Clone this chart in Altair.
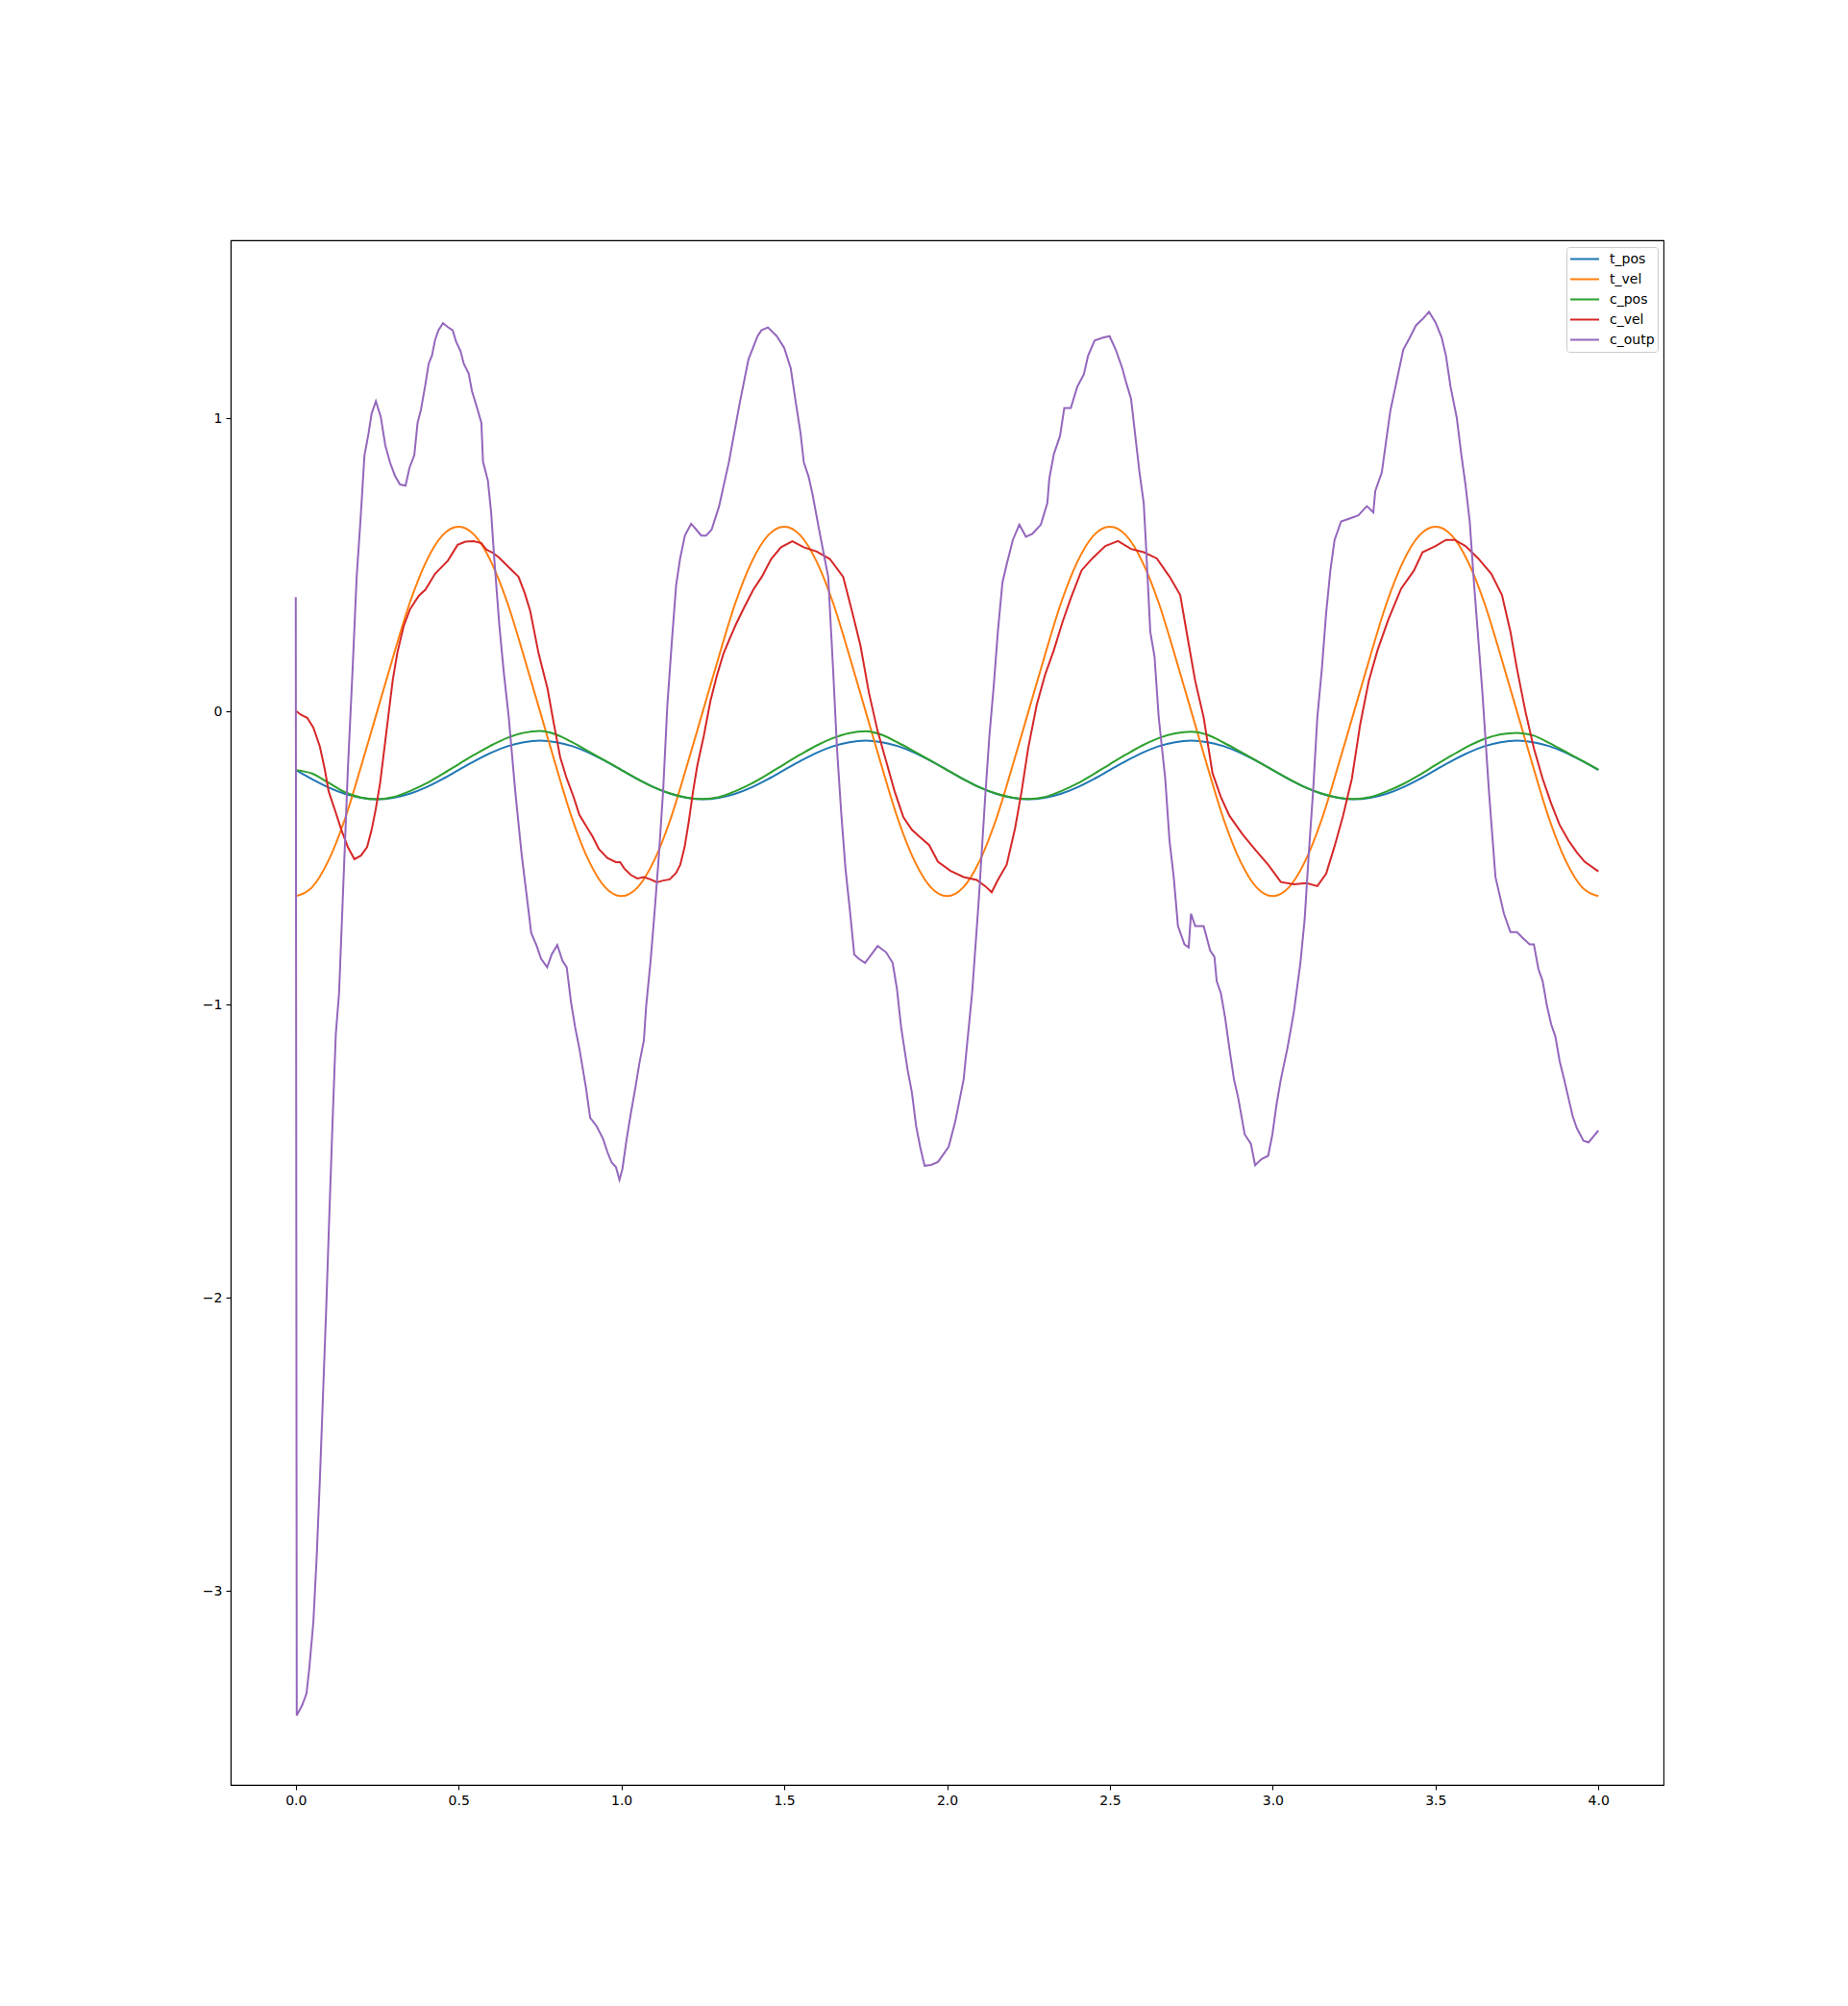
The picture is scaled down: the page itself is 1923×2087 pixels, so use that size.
import altair as alt
import pandas as pd

SERIES = ["t_pos", "t_vel", "c_pos", "c_vel", "c_outp"]
COLORS = ["#1f77b4", "#ff7f0e", "#2ca02c", "#d62728", "#9467bd"]

X_TICKS = [0.0, 0.5, 1.0, 1.5, 2.0, 2.5, 3.0, 3.5, 4.0]
Y_TICKS = [-3, -2, -1, 0, 1]

T_GRID = [0.00, 0.05, 0.10, 0.15, 0.20, 0.25, 0.30, 0.35, 0.40, 0.45,
          0.50, 0.55, 0.60, 0.65, 0.70, 0.75, 0.80, 0.85, 0.90, 0.95,
          1.00, 1.05, 1.10, 1.15, 1.20, 1.25, 1.30, 1.35, 1.40, 1.45,
          1.50, 1.55, 1.60, 1.65, 1.70, 1.75, 1.80, 1.85, 1.90, 1.95,
          2.00, 2.05, 2.10, 2.15, 2.20, 2.25, 2.30, 2.35, 2.40, 2.45,
          2.50, 2.55, 2.60, 2.65, 2.70, 2.75, 2.80, 2.85, 2.90, 2.95,
          3.00, 3.05, 3.10, 3.15, 3.20, 3.25, 3.30, 3.35, 3.40, 3.45,
          3.50, 3.55, 3.60, 3.65, 3.70, 3.75, 3.80, 3.85, 3.90, 3.95,
          4.00]

T_POS = [-0.200, -0.231, -0.259, -0.281, -0.295, -0.300, -0.295, -0.281, -0.259, -0.231,
         -0.200, -0.169, -0.141, -0.119, -0.105, -0.100, -0.105, -0.119, -0.141, -0.169,
         -0.200, -0.231, -0.259, -0.281, -0.295, -0.300, -0.295, -0.281, -0.259, -0.231,
         -0.200, -0.169, -0.141, -0.119, -0.105, -0.100, -0.105, -0.119, -0.141, -0.169,
         -0.200, -0.231, -0.259, -0.281, -0.295, -0.300, -0.295, -0.281, -0.259, -0.231,
         -0.200, -0.169, -0.141, -0.119, -0.105, -0.100, -0.105, -0.119, -0.141, -0.169,
         -0.200, -0.231, -0.259, -0.281, -0.295, -0.300, -0.295, -0.281, -0.259, -0.231,
         -0.200, -0.169, -0.141, -0.119, -0.105, -0.100, -0.105, -0.119, -0.141, -0.169,
         -0.200]

T_VEL = [-0.63, -0.60, -0.51, -0.37, -0.19, 0.00, 0.19, 0.37, 0.51, 0.60,
         0.63, 0.60, 0.51, 0.37, 0.19, 0.00, -0.19, -0.37, -0.51, -0.60,
         -0.63, -0.60, -0.51, -0.37, -0.19, 0.00, 0.19, 0.37, 0.51, 0.60,
         0.63, 0.60, 0.51, 0.37, 0.19, 0.00, -0.19, -0.37, -0.51, -0.60,
         -0.63, -0.60, -0.51, -0.37, -0.19, 0.00, 0.19, 0.37, 0.51, 0.60,
         0.63, 0.60, 0.51, 0.37, 0.19, 0.00, -0.19, -0.37, -0.51, -0.60,
         -0.63, -0.60, -0.51, -0.37, -0.19, 0.00, 0.19, 0.37, 0.51, 0.60,
         0.63, 0.60, 0.51, 0.37, 0.19, 0.00, -0.19, -0.37, -0.51, -0.60,
         -0.63]

C_POS = [-0.200, -0.212, -0.243, -0.275, -0.294, -0.300, -0.292, -0.272, -0.246, -0.214,
         -0.180, -0.147, -0.116, -0.090, -0.073, -0.067, -0.079, -0.106, -0.137, -0.168,
         -0.200, -0.231, -0.259, -0.280, -0.294, -0.299, -0.292, -0.272, -0.246, -0.214,
         -0.180, -0.147, -0.116, -0.091, -0.074, -0.068, -0.080, -0.107, -0.137, -0.168,
         -0.200, -0.231, -0.259, -0.280, -0.294, -0.299, -0.292, -0.272, -0.246, -0.214,
         -0.180, -0.147, -0.116, -0.091, -0.075, -0.069, -0.080, -0.107, -0.137, -0.168,
         -0.200, -0.231, -0.259, -0.280, -0.294, -0.299, -0.292, -0.273, -0.248, -0.217,
         -0.183, -0.150, -0.119, -0.094, -0.078, -0.073, -0.082, -0.108, -0.138, -0.168,
         -0.198]

C_VEL_T = [0.000, 0.015, 0.035, 0.054, 0.074, 0.089, 0.101, 0.121, 0.140, 0.160,
           0.180, 0.200, 0.219, 0.233, 0.246, 0.259, 0.272, 0.285, 0.298, 0.312,
           0.331, 0.351, 0.378, 0.398, 0.428, 0.467, 0.497, 0.521, 0.546, 0.570,
           0.585, 0.605, 0.624, 0.644, 0.684, 0.703, 0.720, 0.746, 0.773, 0.792,
           0.812, 0.832, 0.852, 0.871, 0.891, 0.911, 0.931, 0.957, 0.983, 0.996,
           1.009, 1.029, 1.049, 1.069, 1.089, 1.109, 1.128, 1.148, 1.168, 1.181,
           1.194, 1.207, 1.220, 1.233, 1.253, 1.273, 1.293, 1.313, 1.332, 1.352,
           1.378, 1.405, 1.431, 1.460, 1.490, 1.525, 1.560, 1.600, 1.640, 1.681,
           1.708, 1.734, 1.760, 1.787, 1.813, 1.839, 1.866, 1.892, 1.918, 1.945,
           1.972, 2.011, 2.051, 2.091, 2.117, 2.137, 2.156, 2.183, 2.209, 2.229,
           2.249, 2.275, 2.301, 2.328, 2.354, 2.380, 2.413, 2.446, 2.486, 2.525,
           2.565, 2.604, 2.644, 2.683, 2.716, 2.742, 2.762, 2.788, 2.815, 2.841,
           2.867, 2.907, 2.946, 2.986, 3.025, 3.065, 3.104, 3.137, 3.164, 3.190,
           3.216, 3.243, 3.269, 3.295, 3.322, 3.355, 3.394, 3.434, 3.460, 3.500,
           3.532, 3.559, 3.592, 3.631, 3.671, 3.704, 3.730, 3.750, 3.776, 3.802,
           3.829, 3.855, 3.881, 3.908, 3.934, 3.958, 4.000]
C_VEL_V = [0.002, -0.011, -0.022, -0.055, -0.120, -0.197, -0.273, -0.339, -0.404, -0.463,
           -0.504, -0.492, -0.463, -0.404, -0.331, -0.244, -0.127, -0.009, 0.108, 0.200,
           0.290, 0.349, 0.395, 0.415, 0.470, 0.514, 0.568, 0.579, 0.581, 0.574,
           0.552, 0.541, 0.525, 0.503, 0.459, 0.404, 0.342, 0.196, 0.078, -0.039,
           -0.156, -0.229, -0.288, -0.353, -0.390, -0.426, -0.470, -0.500, -0.514, -0.514,
           -0.536, -0.558, -0.570, -0.565, -0.573, -0.583, -0.577, -0.573, -0.551, -0.522,
           -0.463, -0.375, -0.273, -0.185, -0.083, 0.034, 0.122, 0.196, 0.247, 0.298,
           0.357, 0.415, 0.459, 0.520, 0.560, 0.580, 0.560, 0.545, 0.520, 0.459,
           0.342, 0.225, 0.064, -0.068, -0.170, -0.273, -0.361, -0.404, -0.430, -0.456,
           -0.513, -0.544, -0.565, -0.575, -0.596, -0.617, -0.575, -0.523, -0.398, -0.272,
           -0.126, 0.021, 0.125, 0.209, 0.303, 0.386, 0.481, 0.522, 0.564, 0.581,
           0.554, 0.543, 0.522, 0.460, 0.397, 0.230, 0.104, -0.021, -0.210, -0.293,
           -0.356, -0.419, -0.471, -0.523, -0.582, -0.590, -0.586, -0.596, -0.554, -0.460,
           -0.356, -0.230, -0.042, 0.104, 0.209, 0.313, 0.418, 0.481, 0.543, 0.564,
           0.585, 0.585, 0.564, 0.522, 0.470, 0.397, 0.272, 0.146, 0.000, -0.126,
           -0.230, -0.314, -0.387, -0.440, -0.481, -0.513, -0.546]

C_OUTP_T = [0.000, 0.003, 0.020, 0.033, 0.042, 0.054, 0.064, 0.074, 0.084, 0.094,
            0.103, 0.113, 0.123, 0.133, 0.160, 0.174, 0.187, 0.199, 0.211, 0.223,
            0.233, 0.246, 0.261, 0.275, 0.290, 0.305, 0.320, 0.337, 0.349, 0.364,
            0.374, 0.384, 0.398, 0.408, 0.418, 0.428, 0.438, 0.452, 0.467, 0.482,
            0.492, 0.506, 0.516, 0.531, 0.541, 0.556, 0.570, 0.575, 0.590, 0.600,
            0.610, 0.625, 0.639, 0.654, 0.674, 0.694, 0.707, 0.723, 0.740, 0.753,
            0.772, 0.786, 0.803, 0.819, 0.832, 0.845, 0.858, 0.871, 0.891, 0.904,
            0.924, 0.944, 0.957, 0.970, 0.983, 0.994, 1.003, 1.016, 1.029, 1.043,
            1.056, 1.069, 1.076, 1.089, 1.102, 1.115, 1.128, 1.141, 1.155, 1.168,
            1.180, 1.195, 1.214, 1.230, 1.245, 1.260, 1.277, 1.300, 1.330, 1.363,
            1.390, 1.418, 1.430, 1.450, 1.477, 1.500, 1.520, 1.536, 1.550, 1.560,
            1.575, 1.587, 1.607, 1.635, 1.649, 1.662, 1.675, 1.688, 1.702, 1.715,
            1.728, 1.748, 1.768, 1.787, 1.813, 1.833, 1.846, 1.859, 1.879, 1.892,
            1.905, 1.918, 1.931, 1.951, 1.972, 2.005, 2.025, 2.051, 2.077, 2.097,
            2.117, 2.130, 2.143, 2.156, 2.170, 2.183, 2.202, 2.222, 2.242, 2.262,
            2.288, 2.308, 2.314, 2.328, 2.347, 2.360, 2.380, 2.400, 2.420, 2.433,
            2.453, 2.479, 2.499, 2.518, 2.538, 2.551, 2.565, 2.578, 2.591, 2.604,
            2.611, 2.624, 2.637, 2.650, 2.670, 2.683, 2.696, 2.709, 2.729, 2.742,
            2.749, 2.762, 2.788, 2.808, 2.821, 2.828, 2.841, 2.854, 2.867, 2.881,
            2.894, 2.914, 2.933, 2.946, 2.966, 2.986, 2.999, 3.012, 3.025, 3.045,
            3.065, 3.085, 3.098, 3.111, 3.124, 3.137, 3.151, 3.164, 3.177, 3.190,
            3.210, 3.236, 3.263, 3.289, 3.309, 3.315, 3.335, 3.348, 3.361, 3.381,
            3.401, 3.421, 3.440, 3.460, 3.480, 3.500, 3.519, 3.532, 3.546, 3.565,
            3.579, 3.592, 3.605, 3.618, 3.631, 3.644, 3.664, 3.684, 3.710, 3.730,
            3.750, 3.769, 3.789, 3.802, 3.816, 3.829, 3.842, 3.855, 3.868, 3.881,
            3.895, 3.908, 3.921, 3.934, 3.954, 3.970, 3.985, 4.000]
C_OUTP_V = [0.390, -3.425, -3.389, -3.350, -3.258, -3.107, -2.890, -2.622, -2.321, -2.020,
            -1.719, -1.400, -1.100, -0.960, -0.197, 0.131, 0.459, 0.656, 0.874, 0.945,
            1.016, 1.058, 1.005, 0.907, 0.847, 0.803, 0.774, 0.770, 0.830, 0.874,
            0.984, 1.027, 1.115, 1.186, 1.213, 1.268, 1.300, 1.324, 1.311, 1.300,
            1.262, 1.229, 1.186, 1.153, 1.093, 1.038, 0.984, 0.852, 0.787, 0.678,
            0.514, 0.295, 0.131, -0.020, -0.273, -0.492, -0.609, -0.756, -0.800, -0.843,
            -0.873, -0.829, -0.797, -0.851, -0.873, -0.990, -1.078, -1.151, -1.283, -1.386,
            -1.415, -1.459, -1.503, -1.539, -1.554, -1.598, -1.561, -1.459, -1.371, -1.283,
            -1.195, -1.122, -1.005, -0.858, -0.683, -0.492, -0.273, 0.020, 0.240, 0.430,
            0.520, 0.600, 0.640, 0.620, 0.600, 0.600, 0.620, 0.700, 0.850, 1.050,
            1.200, 1.280, 1.300, 1.310, 1.280, 1.240, 1.170, 1.050, 0.950, 0.850,
            0.800, 0.740, 0.620, 0.459, 0.166, -0.127, -0.346, -0.536, -0.683, -0.829,
            -0.843, -0.858, -0.829, -0.800, -0.822, -0.858, -0.946, -1.078, -1.224, -1.300,
            -1.415, -1.488, -1.550, -1.547, -1.537, -1.485, -1.400, -1.255, -0.960, -0.649,
            -0.293, -0.084, 0.083, 0.272, 0.439, 0.501, 0.585, 0.637, 0.596, 0.606,
            0.637, 0.711, 0.794, 0.878, 0.940, 1.035, 1.035, 1.108, 1.150, 1.213,
            1.265, 1.275, 1.280, 1.234, 1.171, 1.118, 1.066, 0.940, 0.815, 0.710,
            0.564, 0.272, 0.188, -0.021, -0.230, -0.440, -0.565, -0.732, -0.795, -0.805,
            -0.690, -0.732, -0.732, -0.816, -0.837, -0.920, -0.962, -1.046, -1.150, -1.255,
            -1.318, -1.443, -1.475, -1.548, -1.527, -1.516, -1.443, -1.339, -1.255, -1.150,
            -1.025, -0.858, -0.711, -0.481, -0.272, -0.021, 0.146, 0.334, 0.480, 0.585,
            0.648, 0.658, 0.669, 0.700, 0.679, 0.752, 0.815, 0.920, 1.024, 1.129,
            1.234, 1.275, 1.317, 1.338, 1.363, 1.327, 1.275, 1.213, 1.108, 1.003,
            0.878, 0.773, 0.648, 0.439, 0.251, 0.063, -0.272, -0.565, -0.690, -0.753,
            -0.753, -0.774, -0.795, -0.795, -0.879, -0.920, -1.004, -1.067, -1.109, -1.192,
            -1.255, -1.318, -1.380, -1.422, -1.464, -1.470, -1.450, -1.430]

rows = []
for t, v in zip(T_GRID, T_POS):
    rows.append(("t_pos", t, v))
for t, v in zip(T_GRID, T_VEL):
    rows.append(("t_vel", t, v))
for t, v in zip(T_GRID, C_POS):
    rows.append(("c_pos", t, v))
for t, v in zip(C_VEL_T, C_VEL_V):
    rows.append(("c_vel", t, v))
for t, v in zip(C_OUTP_T, C_OUTP_V):
    rows.append(("c_outp", t, v))
df = pd.DataFrame(rows, columns=["series", "t", "v"])

FONT = "DejaVu Sans"

x_enc = alt.X(
    "t:Q",
    scale=alt.Scale(domain=[-0.2, 4.2], nice=False, zero=False),
    axis=alt.Axis(values=X_TICKS, format=".1f", title=None, grid=False,
                  tickSize=5, tickColor="black", tickWidth=1.1,
                  domainColor="black", domainWidth=1.1,
                  labelPadding=4, labelFontSize=14, labelFont=FONT,
                  labelColor="black"),
)
y_enc = alt.Y(
    "v:Q",
    scale=alt.Scale(domain=[-3.662, 1.607], nice=False, zero=False),
    axis=alt.Axis(values=Y_TICKS, format="d", title=None, grid=False,
                  tickSize=5, tickColor="black", tickWidth=1.1,
                  domainColor="black", domainWidth=1.1,
                  labelPadding=4, labelFontSize=14, labelFont=FONT,
                  labelColor="black"),
)
legend = alt.Legend(
    title=None, orient="none", legendX=1390, legendY=7,
    symbolType="stroke", symbolSize=900, symbolStrokeWidth=2,
    labelFontSize=14, labelFont=FONT, labelColor="black",
    strokeColor="#cccccc", fillColor="white", padding=3, cornerRadius=3,
    clipHeight=19, rowPadding=2, labelOffset=10,
)
color_enc = alt.Color("series:N",
                      scale=alt.Scale(domain=SERIES, range=COLORS),
                      legend=legend)


def layer(name, interp):
    return (alt.Chart(df)
            .transform_filter(alt.datum.series == name)
            .mark_line(interpolate=interp, strokeWidth=2)
            .encode(x=x_enc, y=y_enc, color=color_enc))


chart = alt.layer(
    layer("t_pos", "monotone"),
    layer("t_vel", "monotone"),
    layer("c_pos", "monotone"),
    layer("c_vel", "linear"),
    layer("c_outp", "linear"),
).properties(
    width=1491, height=1607,
    padding={"left": 232, "top": 242, "right": 180, "bottom": 150},
    autosize=alt.AutoSizeParams(type="none"),
    background="white",
).configure_view(stroke="black", strokeWidth=1.1)

chart.save("out.html", embed_options={"renderer": "svg", "actions": False})
